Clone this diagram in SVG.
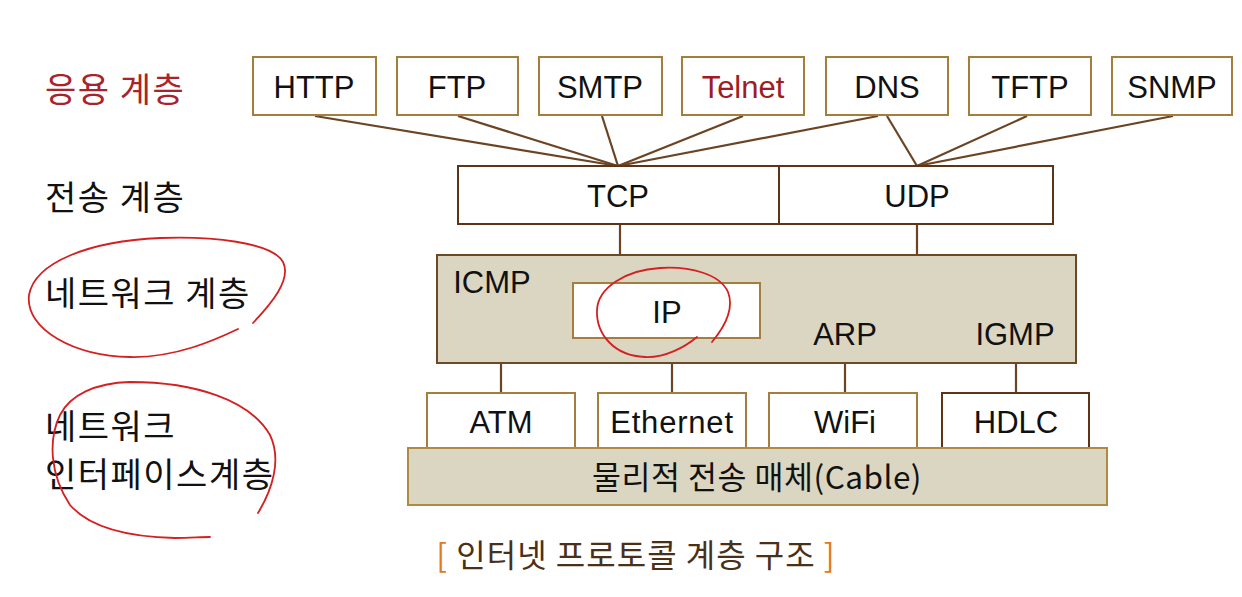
<svg xmlns="http://www.w3.org/2000/svg" width="1242" height="597" viewBox="0 0 1242 597">
<style>
  .bg{fill:#ffffff}
  .box{fill:#ffffff;stroke:#a57d3c;stroke-width:2}
  .dbox{fill:#ffffff;stroke:#5c3417;stroke-width:2}
  .shade{fill:#dbd6c2;stroke:#6b4a25;stroke-width:2}
  .shade2{fill:#dbd6c2;stroke:#b08a40;stroke-width:2}
  .lbl{font-family:"Liberation Sans",Arial,sans-serif;font-size:31px;fill:#111;text-anchor:middle}
  .kor{font-family:"Noto Sans CJK KR",sans-serif;font-size:34px;letter-spacing:1.5px;fill:#111}
  .conn line{stroke:#6b4423;stroke-width:2.2}
  .pen{fill:none;stroke:#d42020;stroke-width:1.8;stroke-linecap:round}
</style>
<rect class="bg" x="0" y="0" width="1242" height="597"/>

<g id="layer-labels">
  <text class="kor" x="45" y="102" style="fill:#a8232b">응용 계층</text>
  <text class="kor" x="45" y="210">전송 계층</text>
  <text class="kor" x="45" y="306">네트워크 계층</text>
  <text class="kor" x="45" y="439">네트워크</text>
  <text class="kor" x="45" y="487">인터페이스계층</text>
</g>

<g id="connectors" class="conn">
  <line x1="315" y1="116" x2="618" y2="166"/>
  <line x1="458" y1="116" x2="618" y2="166"/>
  <line x1="602" y1="116" x2="618" y2="166"/>
  <line x1="743" y1="116" x2="618" y2="166"/>
  <line x1="878" y1="116" x2="618" y2="166"/>
  <line x1="887" y1="116" x2="917" y2="166"/>
  <line x1="1027" y1="116" x2="917" y2="166"/>
  <line x1="1173" y1="116" x2="917" y2="166"/>
  <line x1="620" y1="224" x2="620" y2="255"/>
  <line x1="917" y1="224" x2="917" y2="255"/>
  <line x1="501" y1="363" x2="501" y2="393"/>
  <line x1="672" y1="363" x2="672" y2="393"/>
  <line x1="845" y1="363" x2="845" y2="393"/>
  <line x1="1016" y1="363" x2="1016" y2="393"/>
</g>

<g id="http"><rect class="box" x="253" y="57" width="123" height="58"/><text class="lbl" x="314" y="98">HTTP</text></g>
<g id="ftp"><rect class="box" x="397" y="57" width="121" height="58"/><text class="lbl" x="457" y="98">FTP</text></g>
<g id="smtp"><rect class="box" x="539" y="57" width="123" height="58"/><text class="lbl" x="600" y="98">SMTP</text></g>
<g id="telnet"><rect class="box" x="682" y="57" width="122" height="58"/><text class="lbl" x="743" y="98" style="fill:#a01c22">Telnet</text></g>
<g id="dns"><rect class="box" x="826" y="57" width="122" height="58"/><text class="lbl" x="887" y="98">DNS</text></g>
<g id="tftp"><rect class="box" x="969" y="57" width="122" height="58"/><text class="lbl" x="1030" y="98">TFTP</text></g>
<g id="snmp"><rect class="box" x="1112" y="57" width="120" height="58"/><text class="lbl" x="1172" y="98">SNMP</text></g>

<g id="tcp"><rect class="dbox" x="458" y="166" width="321" height="58"/><text class="lbl" x="618" y="207">TCP</text></g>
<g id="udp"><rect class="dbox" x="779" y="166" width="274" height="58"/><text class="lbl" x="917" y="207">UDP</text></g>

<g id="network">
  <rect class="shade" x="437" y="255" width="639" height="108"/>
  <text class="lbl" x="492" y="293">ICMP</text>
  <text class="lbl" x="845" y="345">ARP</text>
  <text class="lbl" x="1015" y="345">IGMP</text>
</g>
<g id="ip"><rect class="box" x="573" y="283" width="187" height="55"/><text class="lbl" x="667" y="323">IP</text></g>

<g id="atm"><rect class="box" x="427" y="393" width="148" height="55"/><text class="lbl" x="501" y="433">ATM</text></g>
<g id="ethernet"><rect class="box" x="598" y="393" width="148" height="55"/><text class="lbl" x="672" y="433" style="letter-spacing:0.8px">Ethernet</text></g>
<g id="wifi"><rect class="box" x="769" y="393" width="148" height="55"/><text class="lbl" x="845" y="433">WiFi</text></g>
<g id="hdlc"><rect class="dbox" x="942" y="393" width="147" height="55"/><text class="lbl" x="1016" y="433">HDLC</text></g>

<g id="cable">
  <rect class="shade2" x="408" y="448" width="699" height="57"/>
  <text class="kor" x="757" y="489" style="font-size:31.5px;letter-spacing:0.5px;text-anchor:middle">물리적 전송 매체(Cable)</text>
</g>

<g id="caption">
  <text class="kor" x="636" y="567" style="font-size:32px;letter-spacing:1px;text-anchor:middle;fill:#4a3018"><tspan style="fill:#e07a20">[</tspan> 인터넷 프로토콜 계층 구조 <tspan style="fill:#e07a20">]</tspan></text>
</g>

<g id="annotations">
  <path class="pen" d="M253,323 C270,305 292,280 283,262 C272,242 210,236 160,238 C90,241 35,262 29,295 C25,330 75,356 130,357 C175,358 215,340 238,329"/>
  <path class="pen" d="M258,513 C272,490 282,460 270,435 C250,400 195,382 130,382 C95,383 70,395 60,415 C48,440 50,475 70,505 C90,528 130,537 175,538 C190,538 200,537 210,537"/>
  <path class="pen" d="M712,342 C722,330 735,310 728,292 C720,274 690,266 660,268 C625,270 598,288 597,310 C596,335 615,356 645,357 C665,358 685,347 697,337"/>
</g>
</svg>
